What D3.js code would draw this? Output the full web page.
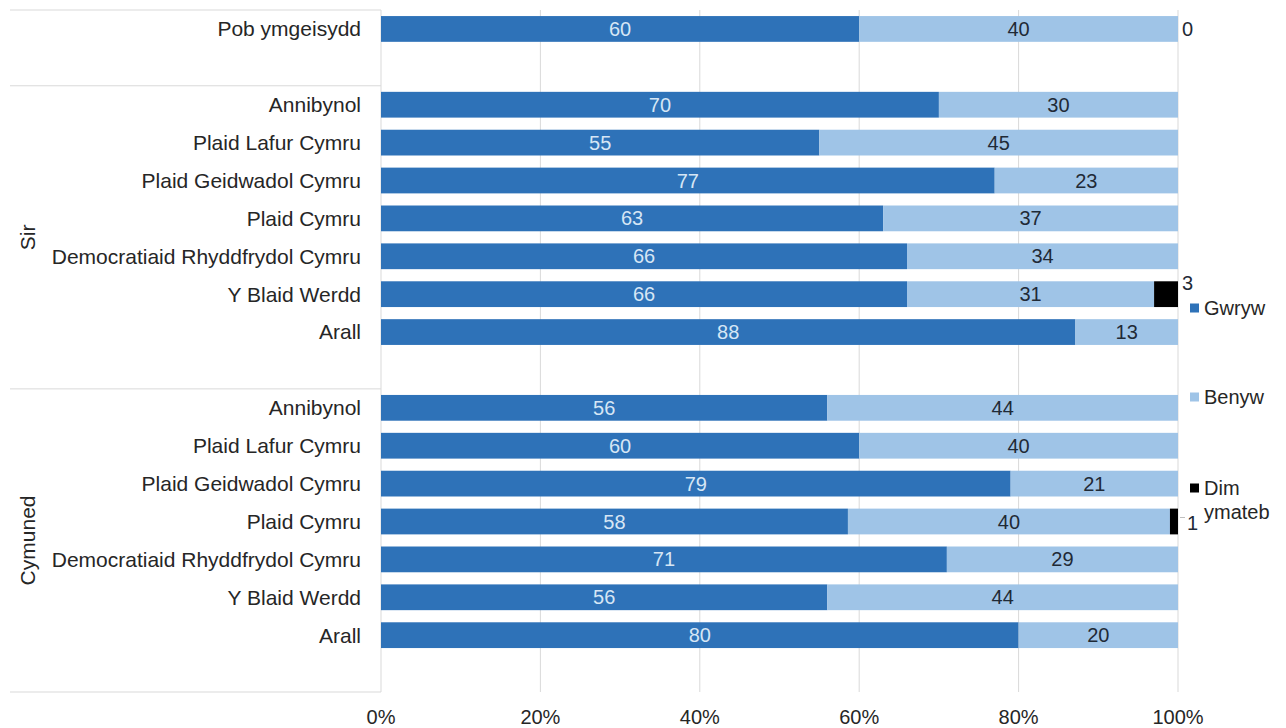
<!DOCTYPE html>
<html>
<head>
<meta charset="utf-8">
<script src="https://cdn.jsdelivr.net/npm/d3@7/dist/d3.min.js"></script>
<style>
  html, body { margin: 0; padding: 0; background: #fff; }
  svg { display: block; font-family: "Liberation Sans", Arial, sans-serif; }
</style>
</head>
<body>
<svg id="chart" width="1286" height="728"></svg>
<script>
// ---- data ----
const groupNames = ["", "Sir", "Cymuned"];
const topCategories = ["Pob ymgeisydd"];
const partyCategories = ["Annibynol", "Plaid Lafur Cymru", "Plaid Geidwadol Cymru", "Plaid Cymru",
  "Democratiaid Rhyddfrydol Cymru", "Y Blaid Werdd", "Arall"];
const seriesNames = ["Gwryw", "Benyw", "Dim ymateb"];
// order: Pob ymgeisydd, Sir x7, Cymuned x7
const gwryw = [60, 70, 55, 77, 63, 66, 66, 88, 56, 60, 79, 58, 71, 56, 80];
const benyw = [40, 30, 45, 23, 37, 34, 31, 13, 44, 40, 21, 40, 29, 44, 20];
const dimYmateb = [0, 0, 0, 0, 0, 0, 3, 0, 0, 0, 0, 1, 0, 0, 0];
const tickValues = [0, 0.2, 0.4, 0.6, 0.8, 1.0];

// ---- build rows ----
const rows = [];
const slots = [];
let idx = 0;
function addGroup(g, cats) {
  cats.forEach((c, i) => {
    const key = g + "|" + i;
    rows.push({ key, group: g, label: c, vals: [gwryw[idx], benyw[idx], dimYmateb[idx]], idx });
    slots.push(key);
    idx++;
  });
  slots.push("_blank_" + g);
}
addGroup(groupNames[0], topCategories);
addGroup(groupNames[1], partyCategories);
addGroup(groupNames[2], partyCategories);

const svg = d3.select("#chart");
const x0 = 381, x1 = 1178, yTop = 10, yBot = 692;
const FS = 20;
const x = d3.scaleLinear().domain([0, 1]).range([x0, x1]);
const y = d3.scaleBand().domain(slots).range([yTop, yBot]).paddingInner(0.32).paddingOuter(0.16);
const colors = ["#2e72b8", "#9fc4e7", "#000000"];
const lineColor = "#d9d9d9";
const textColor = "#262626";

// gridlines
svg.append("g").selectAll("line").data(tickValues).join("line")
  .attr("x1", d => x(d)).attr("x2", d => x(d))
  .attr("y1", yTop).attr("y2", yBot)
  .attr("stroke", lineColor).attr("stroke-width", 1);

// group separators (left category area)
const groupBounds = [];
groupNames.forEach(g => {
  const keys = slots.filter(k => k.startsWith(g + "|") || k === "_blank_" + g);
  const firstY = y(keys[0]) - y.step() * y.paddingInner() / 2;
  const lastY = y(keys[keys.length - 1]) + y.bandwidth() + y.step() * y.paddingInner() / 2;
  groupBounds.push({ g, top: firstY, bottom: lastY });
});
const sepYs = [yTop].concat(groupBounds.slice(0, -1).map(b => b.bottom)).concat([yBot]);
svg.append("g").selectAll("line").data(sepYs).join("line")
  .attr("x1", 10).attr("x2", x0)
  .attr("y1", d => d).attr("y2", d => d)
  .attr("stroke", lineColor).attr("stroke-width", 1);

// x axis tick labels
svg.append("g").selectAll("text").data(tickValues).join("text")
  .attr("x", d => x(d)).attr("y", 724)
  .attr("text-anchor", "middle")
  .attr("font-size", FS).attr("fill", textColor)
  .text(d => d3.format(".0%")(d));

// category labels
svg.append("g").selectAll("text").data(rows).join("text")
  .attr("x", 361).attr("y", d => y(d.key) + y.bandwidth() / 2)
  .attr("dy", "0.35em").attr("text-anchor", "end")
  .attr("font-size", FS + 1).attr("fill", textColor)
  .text(d => d.label);

// group labels
groupBounds.filter(b => b.g !== "").forEach(b => {
  const cy = (b.top + b.bottom) / 2;
  svg.append("text")
    .attr("transform", `translate(35,${cy}) rotate(-90)`)
    .attr("text-anchor", "middle")
    .attr("font-size", FS + 1).attr("fill", textColor)
    .text(b.g);
});

// stacked bars (100% stacked: normalised by row total)
const segs = [];
rows.forEach(r => {
  const total = d3.sum(r.vals);
  let acc = 0;
  r.vals.forEach((v, s) => {
    segs.push({ row: r, s, v, a: acc / total, b: (acc + v) / total });
    acc += v;
  });
});
svg.append("g").selectAll("rect").data(segs.filter(d => d.v > 0)).join("rect")
  .attr("x", d => x(d.a)).attr("width", d => x(d.b) - x(d.a))
  .attr("y", d => y(d.row.key)).attr("height", y.bandwidth())
  .attr("fill", d => colors[d.s]);

// value labels for Gwryw and Benyw
svg.append("g").selectAll("text").data(segs.filter(d => d.s < 2)).join("text")
  .attr("x", d => (x(d.a) + x(d.b)) / 2)
  .attr("y", d => y(d.row.key) + y.bandwidth() / 2)
  .attr("dy", "0.35em").attr("text-anchor", "middle")
  .attr("font-size", FS)
  .attr("fill", d => d.s === 0 ? "#d6e6f5" : "#1f2a36")
  .text(d => d.v);

// Dim ymateb labels (outside the bar)
const dimSegs = segs.filter(d => d.s === 2 && (d.v > 0 || d.row.idx === 0));
dimSegs.forEach(d => {
  const cy = y(d.row.key) + y.bandwidth() / 2;
  if (d.v >= 2) {
    svg.append("text").attr("x", x(1) + 4).attr("y", y(d.row.key) + 2)
      .attr("dy", "0.35em").attr("font-size", FS).attr("fill", "#1f2a36").text(d.v);
  } else if (d.v === 1) {
    svg.append("line").attr("x1", x(1) + 2).attr("x2", x(1) + 7)
      .attr("y1", cy - 4).attr("y2", cy - 4).attr("stroke", "#bfbfbf");
    svg.append("text").attr("x", x(1) + 9).attr("y", cy + 1)
      .attr("dy", "0.35em").attr("font-size", FS).attr("fill", "#1f2a36").text(d.v);
  } else {
    svg.append("text").attr("x", x(1) + 4).attr("y", cy)
      .attr("dy", "0.35em").attr("font-size", FS).attr("fill", "#1f2a36").text(d.v);
  }
});

// legend
const legendYs = [308, 397, 488];
const leg = svg.append("g");
seriesNames.forEach((n, i) => {
  leg.append("rect").attr("x", 1190).attr("y", legendYs[i] - 4.5).attr("width", 9).attr("height", 9)
    .attr("fill", colors[i]);
  const words = n.split(" ");
  words.forEach((w, j) => {
    leg.append("text").attr("x", 1204).attr("y", legendYs[i] + j * 24)
      .attr("dy", "0.35em").attr("font-size", FS).attr("fill", textColor).text(w);
  });
});
</script>
</body>
</html>
